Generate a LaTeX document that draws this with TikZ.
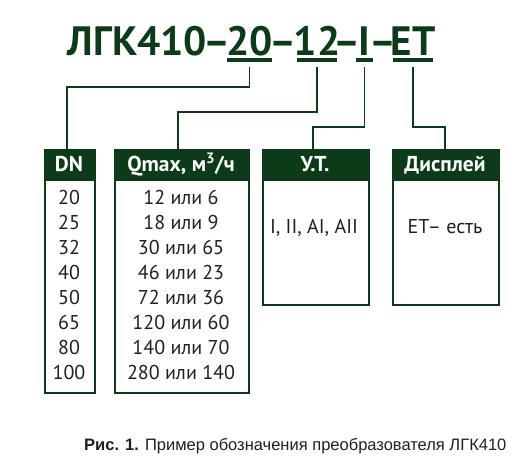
\documentclass[tikz,border=0pt]{standalone}
\usepackage{fontspec}
\setmainfont{PT Sans}
\newfontfamily\capfont{Liberation Sans}
\definecolor{dkgreen}{HTML}{0D3B1A}
\definecolor{ink}{HTML}{231F20}
\begin{document}
\begin{tikzpicture}[x=1pt,y=-1pt,
  ttl/.style={font=\fontsize{41}{41}\selectfont\bfseries, text=dkgreen, inner sep=0pt, anchor=base},
  uline/.style={rectangle, fill=dkgreen, inner sep=0pt, minimum height=3.5pt},
  conn/.style={draw=dkgreen, line width=1.3pt},
  tbox/.style={rectangle, draw=dkgreen, line width=1.6pt, fill=white, inner sep=0pt, anchor=north west},
  thead/.style={rectangle, draw=dkgreen, line width=1.6pt, fill=dkgreen, inner sep=0pt, anchor=north west, minimum height=30pt},
  htxt/.style={text=white, font=\fontsize{21.5}{21.5}\selectfont\bfseries, inner sep=0pt, anchor=base},
  cell/.style={font=\fontsize{20}{20}\selectfont, text=ink, inner sep=0pt, anchor=base},
  capt/.style={font=\capfont\fontsize{16.5}{16.5}\selectfont, text=ink, inner sep=0pt, anchor=base}
]
\useasboundingbox (0,0) rectangle (530,458);
\fill[white] (0,0) rectangle (530,458);

% title
\node[ttl] (t0) at (137.5,55) {ЛГК410};
\node[ttl] (d1) at (216.7,55) {–};
\node[ttl] (t20) at (249.5,55) {20};
\node[ttl] (d2) at (283,55) {–};
\node[ttl] (t12) at (317,55) {12};
\node[ttl] (d3) at (346.7,55) {–};
\node[ttl] (tI) at (364.5,55) {I};
\node[ttl] (d4) at (383.5,55) {–};
\node[ttl] (tET) at (413,55) {ET};

% underlines
\node[uline, minimum width=45pt] (u20) at (249.5,59.8) {};
\node[uline, minimum width=40pt] (u12) at (317,59.8) {};
\node[uline, minimum width=17pt] (uI) at (364.5,59.8) {};
\node[uline, minimum width=40pt] (uET) at (413,59.8) {};

% boxes
\node[tbox, minimum width=50pt, minimum height=243pt] (dn) at (44,149) {};
\node[thead, minimum width=50pt] (hdn) at (44,149) {};
\node[htxt] (ldn) at (69,171.5) {DN};

\node[tbox, minimum width=134pt, minimum height=243pt] (qm) at (114,149) {};
\node[thead, minimum width=134pt] (hqm) at (114,149) {};
\node[htxt] (lqm) at (181,171.5) {Qmax, м\textsuperscript{3}/ч};

\node[tbox, minimum width=106pt, minimum height=155pt] (ut) at (262,149) {};
\node[thead, minimum width=106pt] (hut) at (262,149) {};
\node[htxt] (lut) at (315,171.5) {У.Т.};

\node[tbox, minimum width=106pt, minimum height=155pt] (ds) at (392,149) {};
\node[thead, minimum width=106pt] (hds) at (392,149) {};
\node[htxt] (lds) at (445,171.5) {Дисплей};

% rows
\foreach \a/\b [count=\i from 0] in {20/12 или 6, 25/18 или 9, 32/30 или 65, 40/46 или 23, 50/72 или 36, 65/120 или 60, 80/140 или 70, 100/280 или 140}{
  \node[cell] (dn\i) at (69,{204+25.1*\i}) {\a};
  \node[cell] (qm\i) at (181,{204+25.1*\i}) {\b};
}
\node[cell] (utv) at (314,233) {I, II, AI, AII};
\node[cell] (dsv) at (445,233) {ET– есть};

% connectors
\coordinate (b1) at (67,87);
\coordinate (b2) at (178,112);
\coordinate (b3) at (313,127);
\coordinate (b4) at (445,127);
\draw[conn] ([yshift=-5pt]u20.south) |- (b1) -- (b1 |- dn.north);
\draw[conn] ([yshift=-5pt]u12.south) |- (b2) -- (b2 |- qm.north);
\draw[conn] ([yshift=-5pt]uI.south) |- (b3) -- (b3 |- ut.north);
\draw[conn] ([yshift=-5pt]uET.south) |- (b4) -- (b4 |- ds.north);

% caption
\node[capt] (cap) at (295.3,450) {\textbf{Рис. 1.} Пример обозначения преобразователя ЛГК410};
\end{tikzpicture}
\end{document}
